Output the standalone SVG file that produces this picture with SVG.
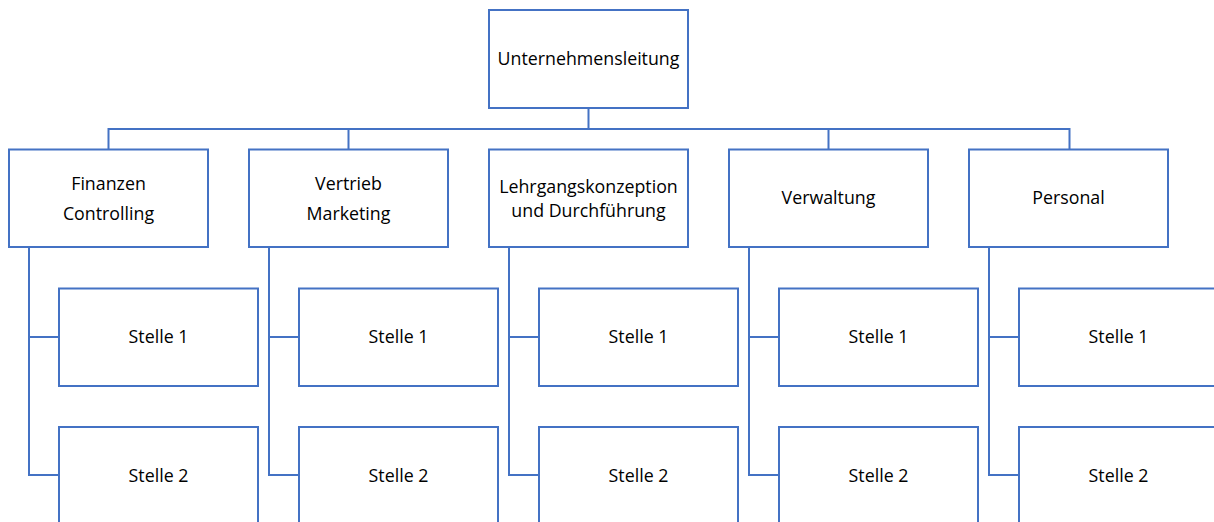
<svg xmlns="http://www.w3.org/2000/svg" width="1214" height="522" viewBox="0 0 1214 522">
<style>
.box{fill:#ffffff;stroke:#4472C4;stroke-width:2}
.ln{fill:none;stroke:#4472C4;stroke-width:2}
text{font-family:"Open Sans","Liberation Sans",sans-serif;font-size:17.8px;fill:#000000;text-anchor:middle;dominant-baseline:central}
</style>
<rect width="1214" height="522" fill="#ffffff"/>
<g id="connectors">
<path class="ln" d="M588.5 108V129M108.5 149V129H1069.5V149M348.5 129V149M828.5 129V149"/>
<path class="ln" d="M29 247V475H59M29 337H59"/>
<path class="ln" d="M269 247V475H299M269 337H299"/>
<path class="ln" d="M509 247V475H539M509 337H539"/>
<path class="ln" d="M749 247V475H779M749 337H779"/>
<path class="ln" d="M989 247V475H1019M989 337H1019"/>
</g>
<g id="top"><rect class="box" x="489" y="10" width="199" height="98"/><text x="588.5" y="58">Unternehmensleitung</text></g>
<g id="finanzen"><rect class="box" x="9" y="149.5" width="199" height="97.5"/><text x="108.5" y="183">Finanzen</text><text x="108.5" y="213">Controlling</text></g>
<g id="vertrieb"><rect class="box" x="249" y="149.5" width="199" height="97.5"/><text x="348.5" y="183">Vertrieb</text><text x="348.5" y="213">Marketing</text></g>
<g id="lehrgang"><rect class="box" x="489" y="149.5" width="199" height="97.5"/><text x="588.5" y="186">Lehrgangskonzeption</text><text x="588.5" y="210">und Durchführung</text></g>
<g id="verwaltung"><rect class="box" x="729" y="149.5" width="199" height="97.5"/><text x="828.5" y="197">Verwaltung</text></g>
<g id="personal"><rect class="box" x="969" y="149.5" width="199" height="97.5"/><text x="1068.5" y="197">Personal</text></g>
<g id="f1"><rect class="box" x="59" y="288.5" width="199" height="97.5"/><text x="158.5" y="336">Stelle 1</text></g>
<g id="f2"><rect class="box" x="59" y="427" width="199" height="100"/><text x="158.5" y="475">Stelle 2</text></g>
<g id="v1"><rect class="box" x="299" y="288.5" width="199" height="97.5"/><text x="398.5" y="336">Stelle 1</text></g>
<g id="v2"><rect class="box" x="299" y="427" width="199" height="100"/><text x="398.5" y="475">Stelle 2</text></g>
<g id="l1"><rect class="box" x="539" y="288.5" width="199" height="97.5"/><text x="638.5" y="336">Stelle 1</text></g>
<g id="l2"><rect class="box" x="539" y="427" width="199" height="100"/><text x="638.5" y="475">Stelle 2</text></g>
<g id="w1"><rect class="box" x="779" y="288.5" width="199" height="97.5"/><text x="878.5" y="336">Stelle 1</text></g>
<g id="w2"><rect class="box" x="779" y="427" width="199" height="100"/><text x="878.5" y="475">Stelle 2</text></g>
<g id="p1"><rect class="box" x="1019" y="288.5" width="199" height="97.5"/><text x="1118.5" y="336">Stelle 1</text></g>
<g id="p2"><rect class="box" x="1019" y="427" width="199" height="100"/><text x="1118.5" y="475">Stelle 2</text></g>
</svg>
